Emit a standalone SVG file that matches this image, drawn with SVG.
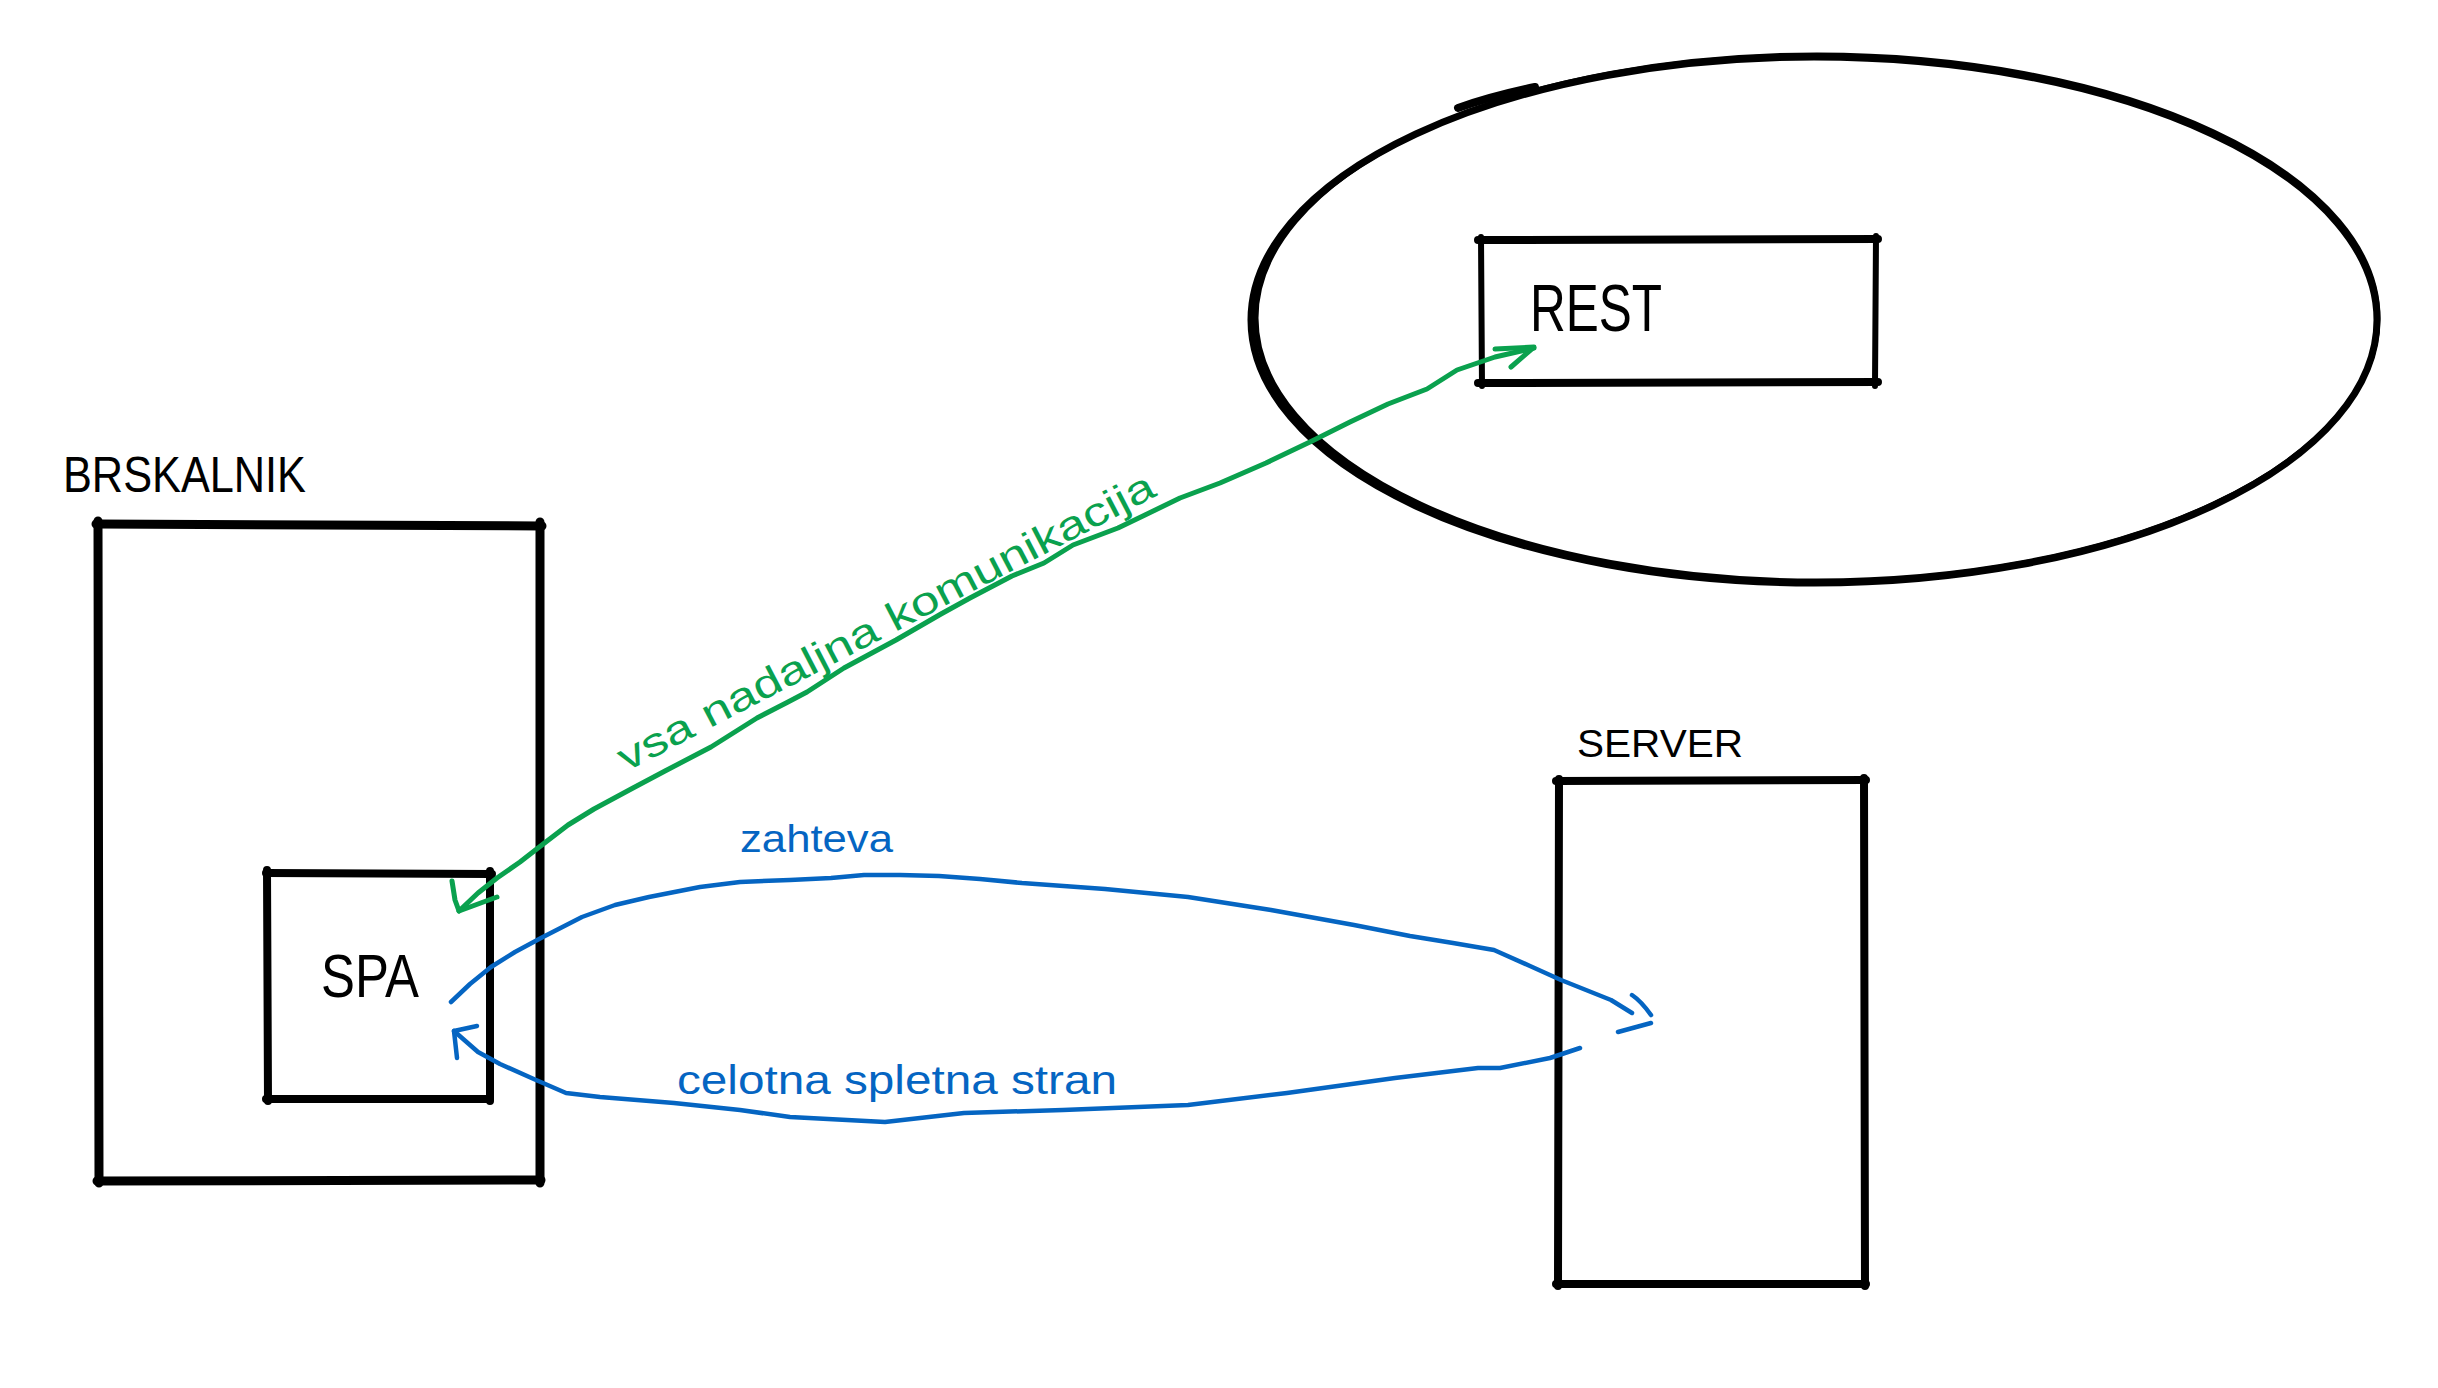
<svg xmlns="http://www.w3.org/2000/svg" width="2438" height="1388" viewBox="0 0 2438 1388">
<style>
.edge{fill:none;stroke:#000;stroke-linecap:round;stroke-linejoin:round}
.ink{font-family:"Liberation Sans","DejaVu Sans",sans-serif;fill:#000}
.green{fill:none;stroke:#0aa14e;stroke-width:5;stroke-linecap:round;stroke-linejoin:round}
.blue{fill:none;stroke:#0565c2;stroke-width:4.5;stroke-linecap:round;stroke-linejoin:round}
.gtxt{font-family:"Liberation Sans","DejaVu Sans",sans-serif;fill:#0aa14e}
.btxt{font-family:"Liberation Sans","DejaVu Sans",sans-serif;fill:#0565c2}
</style>
<rect width="2438" height="1388" fill="#fff"/>

<g id="cloud">
  <ellipse cx="1814" cy="320" rx="563" ry="263" class="edge" stroke-width="7"/>
  <ellipse cx="1817" cy="318" rx="561" ry="263" class="edge" stroke-width="5"/>
  <path d="M1458,108 Q1492,96 1535,87" class="edge" stroke-width="8"/>
</g>

<g id="rest">
  <path class="edge" stroke-width="8" d="M1478,240 L1878,239 M1478,383 L1878,382"/>
  <path class="edge" stroke-width="6" d="M1481,237 L1482,386 M1876,236 L1875,386"/>
  <text class="ink" x="1530" y="331" font-size="66" textLength="132" lengthAdjust="spacingAndGlyphs">REST</text>
</g>

<g id="brskalnik">
  <text class="ink" x="63" y="492" font-size="50" textLength="243" lengthAdjust="spacingAndGlyphs">BRSKALNIK</text>
  <path class="edge" stroke-width="9" d="M96,524 L542,526 M97,1181 L541,1180"/>
  <path class="edge" stroke-width="9" d="M98,521 L99,1183 M540,522 L540,1183"/>
</g>

<g id="spa">
  <path class="edge" stroke-width="8" d="M266,873 L492,874 M266,1099 L490,1099"/>
  <path class="edge" stroke-width="8" d="M267,870 L268,1101 M490,871 L490,1101"/>
  <text class="ink" x="321" y="997" font-size="62" textLength="98" lengthAdjust="spacingAndGlyphs">SPA</text>
</g>

<g id="server">
  <text class="ink" x="1577" y="757" font-size="38" textLength="166" lengthAdjust="spacingAndGlyphs">SERVER</text>
  <path class="edge" stroke-width="8" d="M1556,781 L1866,780 M1556,1284 L1866,1284"/>
  <path class="edge" stroke-width="8" d="M1559,779 L1558,1286 M1864,778 L1865,1286"/>
</g>

<g id="connectors">
  <path class="green" d="M459,911 L478,893 L497,878 L520,862 L538,848 L568,825 L594,809 L633,788 L665,771 L711,747 L757,718 L788,702 L807,692 L844,668 L896,640 L941,614 L970,598 L1012,576 L1044,563 L1073,545 L1118,528 L1145,515 L1180,498 L1220,483 L1266,463 L1312,441 L1350,422 L1388,404 L1427,389 L1457,370 L1495,357 L1534,348"/>
  <path class="green" d="M452,881 L455,900 L459,911 L497,897"/>
  <path class="green" d="M1495,349 L1534,347 L1511,367"/>
  <text class="gtxt" x="626" y="772" font-size="40" textLength="600" lengthAdjust="spacingAndGlyphs" transform="rotate(-27.5 626 772)">vsa nadaljna komunikacija</text>

  <path class="blue" d="M451,1002 L470,984 L491,967 L515,952 L541,938 L582,917 L615,905 L649,897 L700,887 L740,882 L790,880 L831,878 L864,875 L900,875 L939,876 L980,879 L1022,883 L1105,889 L1188,897 L1271,910 L1354,925 L1410,936 L1453,943 L1494,950 L1530,966 L1561,980 L1611,1000 L1632,1013"/>
  <path class="blue" d="M1632,995 Q1641,1001 1651,1015 M1618,1032 L1651,1023"/>
  <text class="btxt" x="740" y="852" font-size="38" textLength="153" lengthAdjust="spacingAndGlyphs">zahteva</text>

  <path class="blue" stroke-width="5" d="M1580,1048 L1550,1058 L1500,1068 L1478,1068 L1395,1078 L1287,1093 L1188,1105 L1063,1110 L964,1113 L885,1122 L790,1117 L740,1110 L674,1103 L600,1097 L566,1093 L536,1080 L500,1064 L478,1052 L454,1031"/>
  <path class="blue" d="M457,1058 L454,1031 L477,1026"/>
  <text class="btxt" x="677" y="1094" font-size="40" textLength="440" lengthAdjust="spacingAndGlyphs">celotna spletna stran</text>
</g>
</svg>
